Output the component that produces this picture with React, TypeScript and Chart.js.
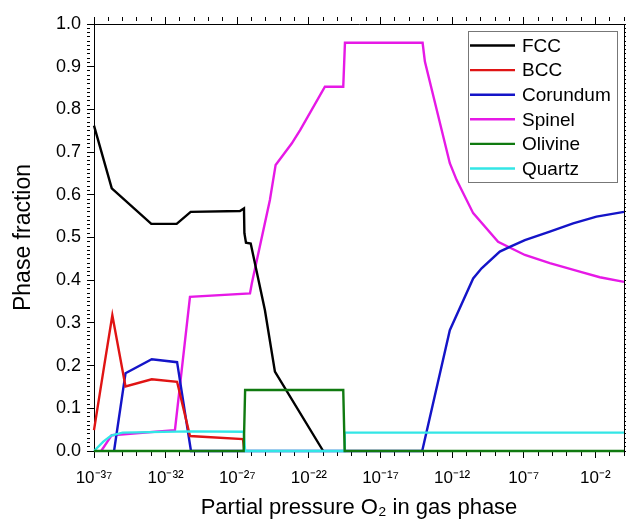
import React, { useEffect, useRef } from 'react';
import { Chart, registerables } from 'chart.js';

Chart.register(...registerables);

// ---- data (x = log10 of O2 partial pressure) ----
const seriesNames = ['FCC', 'BCC', 'Corundum', 'Spinel', 'Olivine', 'Quartz'];
const seriesColors = ['#000000', '#e01414', '#1414c8', '#e619e6', '#107a10', '#33e6e6'];

const fccX = [-37, -35.76, -33.0, -31.23, -30.25, -26.81, -26.53, -26.5, -26.39, -26.06, -25.07, -24.37, -21.0];
const fccY = [0.762, 0.615, 0.532, 0.532, 0.56, 0.562, 0.568, 0.51, 0.488, 0.486, 0.33, 0.186, 0.0];

const bccX = [-37, -36.3, -35.72, -34.8, -32.97, -31.2, -30.3, -26.6, -26.5];
const bccY = [0.049, 0.197, 0.318, 0.151, 0.168, 0.162, 0.035, 0.028, 0.0];

const corX = [-35.6, -34.8, -32.97, -31.2, -30.23, -14.09, -12.16, -10.53, -9.94, -8.67, -7.97, -6.92, -5.18, -3.55, -1.92, 0];
const corY = [0, 0.182, 0.215, 0.208, 0, 0, 0.283, 0.404, 0.428, 0.467, 0.478, 0.494, 0.514, 0.533, 0.549, 0.56];

const spiX = [-36.5, -35.76, -31.35, -30.3, -26.11, -25.98, -24.72, -24.32, -23.2, -22.6, -20.88, -19.6, -19.48, -14.06, -13.9, -12.16, -11.69, -10.53, -8.79, -6.92, -5.18, -3.09, -1.69, 0];
const spiY = [0, 0.037, 0.049, 0.361, 0.369, 0.393, 0.588, 0.67, 0.72, 0.752, 0.853, 0.853, 0.956, 0.956, 0.912, 0.674, 0.635, 0.557, 0.49, 0.459, 0.44, 0.42, 0.407, 0.396];

const oliX = [-37, -26.55, -26.45, -19.6, -19.5, 0];
const oliY = [0, 0, 0.143, 0.143, 0, 0];

const quaX = [-37, -36.35, -35.8, -35.0, -30.3, -26.55, -26.45, -19.5, -19.49, 0];
const quaY = [0, 0.022, 0.036, 0.043, 0.046, 0.045, 0, 0, 0.043, 0.043];

const xMin = -37;
const xMax = 0;
const xLabelExponents = [-37, -32, -27, -22, -17, -12, -7, -2];
const yTickLabels = ['0.0', '0.1', '0.2', '0.3', '0.4', '0.5', '0.6', '0.7', '0.8', '0.9', '1.0'];

const xTitle = 'Partial pressure O\u2082 in gas phase';
const yTitle = 'Phase fraction';

const FONT = '"Liberation Sans", Arial, sans-serif';
const LINE_W = 2.4;

const SUP: Record<string, string> = {
  '-': '\u207B', '0': '\u2070', '1': '\u00B9', '2': '\u00B2', '3': '\u00B3', '4': '\u2074',
  '5': '\u2075', '6': '\u2076', '7': '\u2077', '8': '\u2078', '9': '\u2079',
};
const pow10Label = (e: number) => '10' + String(e).split('').map((c) => SUP[c] || c).join('');

const zip = (xs: number[], ys: number[]) => xs.map((x, i) => ({ x, y: ys[i] }));

// every decade gets a tick mark; every 0.01 of phase fraction gets a tick mark
const xTickMarks: number[] = [];
for (let e = xMin; e <= xMax; e++) xTickMarks.push(e);
const yTickMarks: number[] = [];
for (let i = 0; i <= 100; i++) yTickMarks.push(i / 100);

const isMajorX = (v: number) => xLabelExponents.indexOf(Math.round(v)) >= 0;
const isMajorY = (v: number) => Math.round(v * 100) % 10 === 0;

const xGrid = {
  display: true,
  drawOnChartArea: false,
  drawTicks: true,
  tickLength: 7,
  tickColor: '#000',
  tickWidth: 1,
  tickBorderDash: (c: any) => (c.tick && isMajorX(c.tick.value) ? [] : [4, 100]),
};
const yGrid = {
  display: true,
  drawOnChartArea: false,
  drawTicks: true,
  tickLength: 7,
  tickColor: '#000',
  tickWidth: 1,
  tickBorderDash: (c: any) => (c.tick && isMajorY(c.tick.value) ? [] : [3, 100]),
};

const legendPlugin = {
  id: 'phaseLegend',
  afterDraw(chart: any) {
    const ctx = chart.ctx as CanvasRenderingContext2D;
    ctx.save();
    ctx.strokeStyle = '#777';
    ctx.lineWidth = 1;
    ctx.strokeRect(468.5, 31.5, 149, 151);
    ctx.font = '19px ' + FONT;
    ctx.textBaseline = 'middle';
    ctx.textAlign = 'left';
    chart.data.datasets.forEach((ds: any, i: number) => {
      const y = 45.5 + i * 24.6;
      ctx.strokeStyle = ds.borderColor;
      ctx.lineWidth = LINE_W;
      ctx.beginPath();
      ctx.moveTo(470, y);
      ctx.lineTo(515, y);
      ctx.stroke();
      ctx.fillStyle = '#000';
      ctx.fillText(ds.label, 522, y + 1);
    });
    ctx.restore();
  },
};

const fitX = (h: number) => (s: any) => {
  s.height = h;
  s.paddingLeft = 0;
  s.paddingRight = 0;
};
const fitY = (w: number) => (s: any) => {
  s.width = w;
  s.paddingTop = 0;
  s.paddingBottom = 0;
};

export default function App() {
  const ref = useRef<HTMLCanvasElement | null>(null);
  useEffect(() => {
    if (!ref.current) return;
    const series = [
      [fccX, fccY, 2],
      [bccX, bccY, 2],
      [corX, corY, 2],
      [spiX, spiY, 2],
      [oliX, oliY, 0],
      [quaX, quaY, 1],
    ] as [number[], number[], number][];
    const chart = new Chart(ref.current, {
      type: 'line',
      data: {
        datasets: series.map(([xs, ys, order], i) => ({
          label: seriesNames[i],
          data: zip(xs, ys),
          borderColor: seriesColors[i],
          backgroundColor: seriesColors[i],
          borderWidth: LINE_W,
          pointRadius: 0,
          tension: 0,
          fill: false,
          clip: false as any,
          order,
        })),
      },
      options: {
        animation: false,
        responsive: false,
        devicePixelRatio: 1,
        layout: { padding: 0 },
        plugins: { legend: { display: false }, tooltip: { enabled: false } },
        scales: {
          x: {
            type: 'linear',
            position: 'bottom',
            min: xMin,
            max: xMax,
            afterBuildTicks: (s: any) => {
              s.ticks = xTickMarks.map((v) => ({ value: v }));
            },
            afterFit: fitX(74),
            grid: xGrid,
            border: { display: true, color: '#000', width: 1 },
            ticks: {
              autoSkip: false,
              maxRotation: 0,
              padding: 10,
              color: '#000',
              font: { family: FONT, size: 17 },
              callback: (v: any) => (isMajorX(Number(v)) ? pow10Label(Math.round(Number(v))) : ''),
            },
            title: {
              display: true,
              text: xTitle,
              color: '#000',
              font: { family: FONT, size: 22 },
              padding: { top: 0, bottom: 4 },
            },
          },
          x2: {
            type: 'linear',
            position: 'top',
            min: xMin,
            max: xMax,
            afterBuildTicks: (s: any) => {
              s.ticks = xTickMarks.map((v) => ({ value: v }));
            },
            afterFit: fitX(24),
            grid: xGrid,
            border: { display: true, color: '#000', width: 1 },
            ticks: { display: false, autoSkip: false, padding: 0 },
          },
          y: {
            type: 'linear',
            position: 'left',
            min: 0,
            max: 1,
            afterBuildTicks: (s: any) => {
              s.ticks = yTickMarks.map((v) => ({ value: v }));
            },
            afterFit: fitY(94),
            grid: yGrid,
            border: { display: true, color: '#000', width: 1 },
            ticks: {
              autoSkip: false,
              padding: 6,
              color: '#000',
              font: { family: FONT, size: 18 },
              callback: (v: any) => (isMajorY(Number(v)) ? yTickLabels[Math.round(Number(v) * 10)] : ''),
            },
            title: {
              display: true,
              text: yTitle,
              color: '#000',
              font: { family: FONT, size: 23 },
              padding: { top: 10, bottom: 0 },
            },
          },
          y2: {
            type: 'linear',
            position: 'right',
            min: 0,
            max: 1,
            afterBuildTicks: (s: any) => {
              s.ticks = yTickMarks.map((v) => ({ value: v }));
            },
            afterFit: fitY(2),
            grid: yGrid,
            border: { display: true, color: '#000', width: 1 },
            ticks: { display: false, autoSkip: false, padding: 0 },
          },
        },
      },
      plugins: [legendPlugin],
    } as any);
    return () => chart.destroy();
  }, []);
  return (
    <div style={{ position: 'fixed', left: 0, top: 0, width: 626, height: 525, background: '#fff' }}>
      <canvas ref={ref} width={626} height={525} style={{ width: 626, height: 525, display: 'block' }} />
    </div>
  );
}
